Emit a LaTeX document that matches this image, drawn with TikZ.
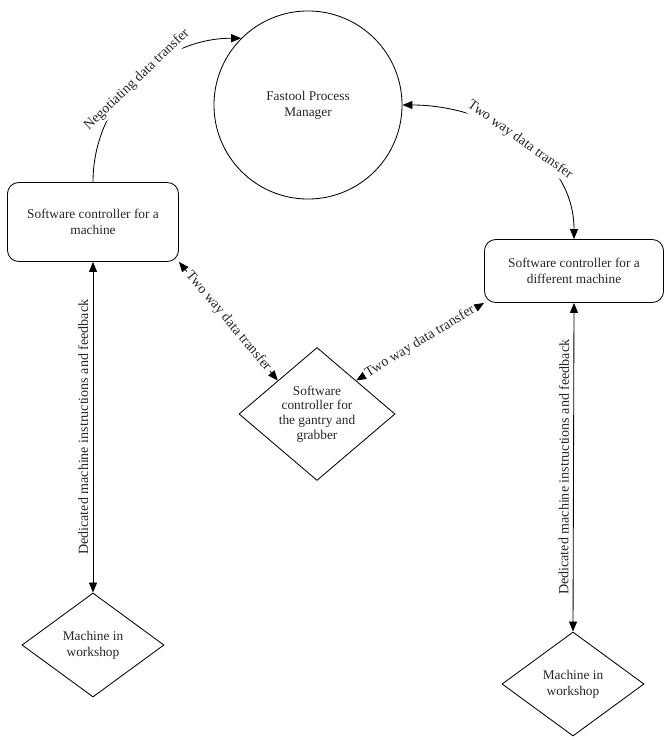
\documentclass[tikz,border=0pt]{standalone}
\usepackage{fontspec}
\setmainfont{Liberation Serif}
\usepackage{tikz}
\usetikzlibrary{arrows.meta,positioning,shapes.geometric}
\tikzset{
  ctrl/.style={draw=black,rounded corners=8pt,align=center,line width=0.6pt,inner sep=0pt},
  machine/.style={draw=black,shape=diamond,align=center,line width=0.6pt,inner sep=0pt},
  manager/.style={draw=black,circle,align=center,minimum size=4.7cm,line width=0.6pt},
  arrow/.style={-{Triangle[length=2.5mm,width=2mm]},line width=0.6pt,draw=black},
  twoway/.style={{Triangle[length=2.5mm,width=2mm]}-{Triangle[length=2.5mm,width=2mm]},line width=0.6pt,draw=black},
  flowlabel/.style={sloped,fill=white,inner sep=1.5pt,font=\fontsize{10}{12}\selectfont},
  sidelabel/.style={sloped,above,inner sep=3pt,font=\fontsize{10}{12}\selectfont}
}

\begin{document}
\begin{tikzpicture}[x=0.025cm,y=-0.025cm,font=\fontsize{9.5}{11.5}\selectfont,text=black!85]
    \useasboundingbox (0,0) rectangle (669,740);
    \node[manager] (fpm) at (308,105) {Fastool Process\\Manager};
    \node[ctrl,minimum width=4.275cm,minimum height=1.975cm] (lctrl) at (93,222) {Software controller for a\\machine};
    \node[ctrl,minimum width=4.475cm,minimum height=1.575cm] (rctrl) at (574,271) {Software controller for a\\different machine};
    \node[machine,minimum width=3.9cm,minimum height=3.1cm,font=\fontsize{9.5}{10.5}\selectfont] (gantry) at (317,414) {Software\\controller for\\the gantry and\\grabber};
    \node[machine,minimum width=3.55cm,minimum height=2.6cm] (lmach) at (93,645) {Machine in\\workshop};
    \node[machine,minimum width=3.55cm,minimum height=2.6cm] (rmach) at (573,684) {Machine in\\workshop};
    \draw[arrow] (lctrl.north) to[out=90,in=180] node[flowlabel,pos=0.5] {Negotiating data transfer} (fpm.135);
    \draw[twoway] (fpm.east) to[out=0,in=90] node[flowlabel,pos=0.5] {Two way data transfer} (rctrl.north);
    \draw[twoway] (lctrl.south east) -- node[flowlabel] {Two way data transfer} (gantry.north west);
    \draw[twoway] (gantry.north east) -- node[flowlabel] {Two way data transfer} (rctrl.south west);
    \draw[twoway] (lmach.north) -- node[sidelabel] {Dedicated machine instructions and feedback} (lctrl.south);
    \draw[twoway] (rmach.north) -- node[sidelabel] {Dedicated machine instructions and feedback} (rctrl.south);
  \end{tikzpicture}
\end{document}
